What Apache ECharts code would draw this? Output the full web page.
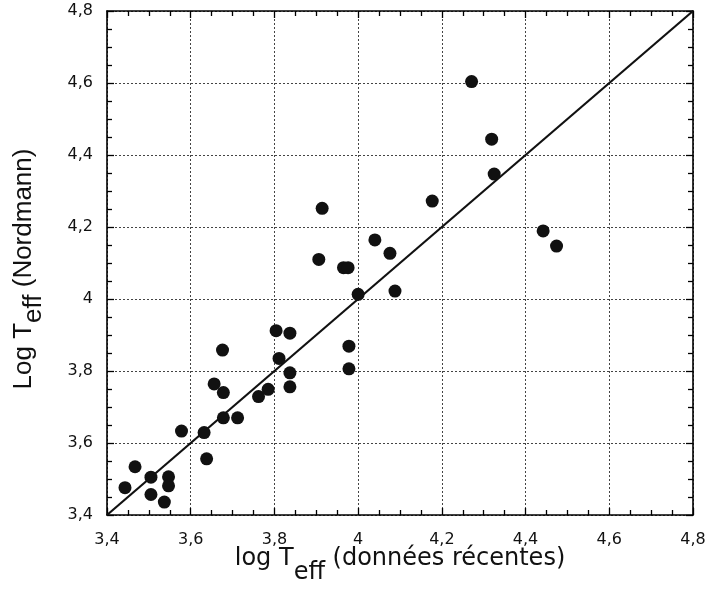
<!DOCTYPE html>
<html>
<head>
<meta charset="utf-8">
<script src="https://cdn.jsdelivr.net/npm/echarts@6/dist/echarts.min.js"></script>
<style>html,body{margin:0;padding:0;background:#fff}#c{width:708px;height:590px}</style>
</head>
<body>
<div id="c"></div>
<script>
// log Teff (données récentes)
const xValues = [3.443,3.467,3.505,3.505,3.537,3.547,3.547,3.578,3.632,3.638,3.656,3.676,3.678,3.678,3.712,3.762,3.785,3.804,3.811,3.837,3.837,3.837,3.978,3.978,4.000,
  3.914,3.906,3.965,3.976,4.040,
  4.271,4.319,4.325,4.177,4.076,4.088,4.442,4.474];
// log Teff (Nordmann)
const yValues = [3.476,3.534,3.505,3.457,3.436,3.506,3.481,3.633,3.629,3.556,3.764,3.858,3.740,3.670,3.670,3.729,3.749,3.912,3.835,3.905,3.795,3.756,3.869,3.806,4.013,
  4.252,4.110,4.087,4.087,4.164,
  4.604,4.444,4.347,4.272,4.127,4.022,4.189,4.147];
const diagX = [3.4, 4.8];
const diagY = [3.4, 4.8];
const xTickLabels = ['3,4','3,6','3,8','4','4,2','4,4','4,6','4,8'];
const yTickLabels = ['3,4','3,6','3,8','4','4,2','4,4','4,6','4,8'];
const axisMin = 3.4, axisMax = 4.8, axisStep = 0.2;

const pts = xValues.map((x, i) => [x, yValues[i]]);
const diag = diagX.map((x, i) => [x, diagY[i]]);
const idx = v => Math.round((v - axisMin) / axisStep);

function mkAxis(pos, labels, show) {
  return {
    type: 'value', position: pos, min: axisMin, max: axisMax, interval: axisStep,
    axisLine: { show: true, onZero: false, lineStyle: { color: '#000', width: 1.6 } },
    axisTick: { show: true, inside: true, length: 7, lineStyle: { color: '#000', width: 1.3 } },
    minorTick: { show: true, splitNumber: 4, length: 5, lineStyle: { color: '#000', width: 1.3 } },
    splitLine: { show: show, lineStyle: { color: '#444', type: [2, 2], width: 1 } },
    axisLabel: show ? {
      show: true, fontFamily: 'DejaVu Sans', fontSize: 16, color: '#111', margin: pos === 'bottom' ? 17 : 14,
      formatter: v => labels[idx(v)] || ''
    } : { show: false }
  };
}

const xMain = mkAxis('bottom', xTickLabels, true);
xMain.name = '{a|log T}{b|eff}{a| (données récentes)}';
xMain.nameLocation = 'middle';
xMain.nameGap = 32;
xMain.nameMoveOverlap = false;
xMain.nameTextStyle = {
  rich: {
    a: { fontFamily: 'DejaVu Sans', fontSize: 24, color: '#111', lineHeight: 38, verticalAlign: 'top' },
    b: { fontFamily: 'DejaVu Sans', fontSize: 24, color: '#111', lineHeight: 38, verticalAlign: 'bottom' }
  }
};
const yMain = mkAxis('left', yTickLabels, true);
yMain.name = '{a|Log T}{b|eff}{a| (Nordmann)}';
yMain.nameLocation = 'middle';
yMain.nameGap = 60;
yMain.nameRotate = 90;
yMain.nameMoveOverlap = false;
yMain.nameTextStyle = {
  padding: [0, 12, 0, 0],
  rich: {
    a: { fontFamily: 'Liberation Sans', fontSize: 26, color: '#111', lineHeight: 36, verticalAlign: 'top' },
    b: { fontFamily: 'Liberation Sans', fontSize: 26, color: '#111', lineHeight: 36, verticalAlign: 'bottom' }
  }
};

const chart = echarts.init(document.getElementById('c'), null, { renderer: 'canvas' });
chart.setOption({
  animation: false,
  backgroundColor: '#fff',
  grid: { left: 107, right: 15, top: 11, bottom: 75, containLabel: false, outerBoundsMode: 'none' },
  xAxis: [xMain, mkAxis('top', xTickLabels, false)],
  yAxis: [yMain, mkAxis('right', yTickLabels, false)],
  series: [
    { type: 'line', data: diag, showSymbol: false, symbol: 'none',
      lineStyle: { color: '#111', width: 2.2 }, z: 2 },
    { type: 'scatter', data: pts, symbol: 'circle', symbolSize: 13,
      itemStyle: { color: '#111', opacity: 1 }, z: 3 }
  ]
});
</script>
</body>
</html>
